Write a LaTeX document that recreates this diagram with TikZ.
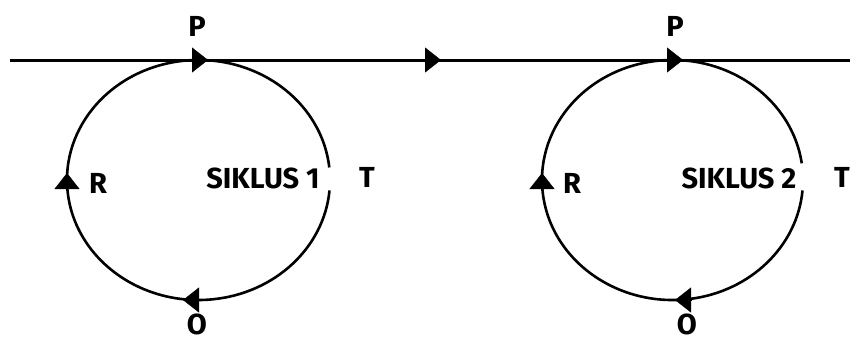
\documentclass[tikz,border=0pt]{standalone}
\usepackage{fontspec}
\setmainfont{Fira Sans}
\usetikzlibrary{arrows.meta}
\begin{document}
\begin{tikzpicture}[x=1pt,y=1pt,
  lbl/.style={font=\fontsize{29}{29}\selectfont\bfseries, inner sep=0pt},
  orbit/.style={line width=2.6pt},
  tipmark/.style={line width=0.4pt, -{Triangle[length=16pt,width=25pt]}},
  axisline/.style={line width=3pt}]
\useasboundingbox (0,0) rectangle (850,341);
% axis line
\coordinate (L0) at (10,281);
\coordinate (L1) at (850,281);
\draw[axisline] (L0) -- (L1);
% cycle centres
\coordinate (c1) at (198.5,161);
\coordinate (c2) at (672.5,161);
% orbits with gap at T
\draw[orbit] ([shift={(6:131.5 and 120)}]c1) arc[start angle=6, end angle=355, x radius=131.5, y radius=120];
\draw[orbit] ([shift={(8:130.5 and 120)}]c2) arc[start angle=8, end angle=355, x radius=130.5, y radius=120];
% arrow heads
\coordinate (a0s) at (424,281); \coordinate (a0e) at (441,281);
\draw[tipmark] (a0s) -- (a0e);
\coordinate (p1s) at (190,281); \coordinate (p1e) at (208,281);
\draw[tipmark] (p1s) -- (p1e);
\coordinate (p2s) at (665,281); \coordinate (p2e) at (683,281);
\draw[tipmark] (p2s) -- (p2e);
\coordinate (r1s) at (67,152); \coordinate (r1e) at (67,168);
\draw[tipmark] (r1s) -- (r1e);
\coordinate (r2s) at (542,152); \coordinate (r2e) at (542,168);
\draw[tipmark] (r2s) -- (r2e);
\coordinate (o1s) at (200,41); \coordinate (o1e) at (183,41);
\draw[tipmark] (o1s) -- (o1e);
\coordinate (o2s) at (692,41); \coordinate (o2e) at (675,41);
\draw[tipmark] (o2s) -- (o2e);
% labels
\node[lbl] (P1) at (197,315) {P};
\node[lbl] (P2) at (675,315) {P};
\node[lbl, anchor=south] (O1) at (197,6) {O};
\node[lbl, anchor=south] (O2) at (687,6) {O};
\node[lbl] (R1) at (98,158) {R};
\node[lbl] (R2) at (572,158) {R};
\node[lbl] (S1) at (263,163) {SIKLUS 1};
\node[lbl] (S2) at (739,163) {SIKLUS 2};
\node[lbl] (T1) at (367,164) {T};
\node[lbl, anchor=east] (T2) at (850,164) {T};
\end{tikzpicture}
\end{document}
